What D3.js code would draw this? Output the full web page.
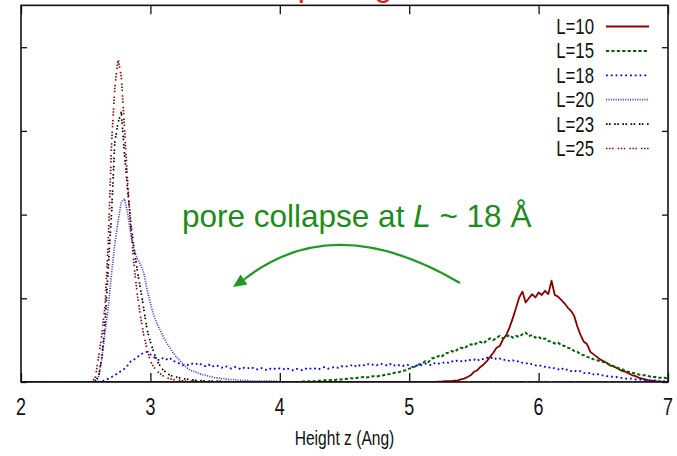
<!DOCTYPE html>
<html>
<head>
<meta charset="utf-8">
<script src="https://cdn.jsdelivr.net/npm/d3@7"></script>
<style>
  html, body { margin: 0; padding: 0; background: #fff; }
  svg { display: block; }
</style>
</head>
<body>
<script>
// Height histograms of atoms in the pore, one series per pore size L.
// Values are on a regular height grid starting at zStart with spacing zStep.
const zStart = 2.0;
const zStep = 0.025;

const seriesNames = ["L=10", "L=15", "L=18", "L=20", "L=23", "L=25"];

const densL10 = [
  0,0,0,0,0,0,0,0,0,0, 0,0,0,0,0,0,0,0,0,0,
  0,0,0,0,0,0,0,0,0,0, 0,0,0,0,0,0,0,0,0,0,
  0,0,0,0,0,0,0,0,0,0, 0,0,0,0,0,0,0,0,0,0,
  0,0,0,0,0,0,0,0,0,0, 0,0,0,0,0,0,0,0,0,0,
  0,0,0,0,0,0,0,0,0,0, 0,0,0,0,0,0,0,0,0,0,
  0,0,0,0,0,0,0,0,0,0, 0,0,0,0,0,0,0,0,0,0,
  0,0,0,0,0,0,0,0,0,0.005, 0.005,0.01,0.01,0.01,0.015,0.02,0.03,0.04,0.06,0.08,
  0.12,0.14,0.18,0.21,0.25,0.30,0.35,0.41,0.43,0.51, 0.56,0.65,0.76,0.88,1.01,1.08,0.95,1.00,1.05,1.01,
  1.07,1.04,1.09,1.05,1.21,1.04,1.02,0.98,0.94,0.89, 0.85,0.79,0.66,0.56,0.48,0.45,0.36,0.33,0.30,0.27,
  0.25,0.23,0.20,0.19,0.17,0.15,0.13,0.12,0.10,0.08, 0.07,0.05,0.04,0.03,0.02,0.015,0.01,0.005,0.005,0,
  0
];

const densL15 = [
  0,0,0,0,0,0,0,0,0,0, 0,0,0,0,0,0,0,0,0,0,
  0,0,0,0,0,0,0,0,0,0, 0,0,0,0,0,0,0,0,0,0,
  0,0,0,0,0,0,0,0,0,0, 0,0,0,0,0,0,0,0,0,0,
  0,0,0,0,0,0,0,0,0,0, 0,0,0,0,0,0,0,0,0,0,
  0,0,0,0,0,0,0,0.005,0.005,0.01, 0.01,0.01,0.015,0.015,0.02,0.02,0.025,0.025,0.03,0.03,
  0.035,0.04,0.045,0.04,0.05,0.055,0.06,0.055,0.065,0.07, 0.065,0.075,0.08,0.09,0.095,0.105,0.115,0.12,0.135,0.14,
  0.16,0.17,0.19,0.21,0.22,0.25,0.24,0.28,0.29,0.31, 0.30,0.34,0.35,0.37,0.36,0.39,0.41,0.40,0.43,0.45,
  0.44,0.47,0.48,0.46,0.50,0.52,0.50,0.53,0.55,0.52, 0.54,0.56,0.53,0.55,0.54,0.57,0.59,0.55,0.56,0.53,
  0.54,0.51,0.52,0.49,0.48,0.46,0.47,0.44,0.43,0.41, 0.40,0.37,0.36,0.33,0.32,0.30,0.29,0.27,0.26,0.25,
  0.24,0.22,0.21,0.19,0.18,0.16,0.15,0.13,0.12,0.11, 0.10,0.09,0.08,0.08,0.07,0.06,0.06,0.05,0.05,0.05,
  0.04
];

const densL18 = [
  0,0,0,0,0,0,0,0,0,0, 0,0,0,0,0,0,0,0,0,0,
  0,0,0,0,0.005,0.01,0.02,0.04,0.06,0.08, 0.11,0.13,0.16,0.20,0.25,0.27,0.30,0.33,0.35,0.36,
  0.33,0.30,0.27,0.26,0.29,0.27,0.29,0.25,0.24,0.22, 0.20,0.21,0.20,0.22,0.21,0.23,0.20,0.19,0.21,0.18,
  0.20,0.19,0.17,0.19,0.18,0.16,0.18,0.17,0.15,0.17, 0.16,0.18,0.16,0.15,0.17,0.16,0.14,0.16,0.15,0.17,
  0.16,0.15,0.17,0.15,0.14,0.16,0.15,0.14,0.16,0.15, 0.17,0.16,0.15,0.17,0.18,0.16,0.17,0.18,0.17,0.19,
  0.18,0.19,0.20,0.18,0.21,0.19,0.20,0.22,0.20,0.21, 0.20,0.22,0.21,0.20,0.22,0.19,0.21,0.20,0.19,0.21,
  0.20,0.18,0.19,0.21,0.20,0.22,0.21,0.20,0.23,0.22, 0.22,0.24,0.23,0.25,0.24,0.26,0.25,0.24,0.27,0.26,
  0.27,0.25,0.28,0.27,0.29,0.28,0.30,0.27,0.28,0.26, 0.27,0.25,0.26,0.24,0.25,0.23,0.22,0.23,0.21,0.20,
  0.19,0.20,0.18,0.17,0.18,0.16,0.15,0.17,0.14,0.15, 0.13,0.14,0.12,0.13,0.11,0.10,0.11,0.09,0.10,0.08,
  0.08,0.07,0.07,0.06,0.06,0.05,0.05,0.04,0.04,0.04, 0.03,0.03,0.03,0.02,0.02,0.02,0.02,0.01,0.01,0.01,
  0.01
];

const densL20 = [
  0,0,0,0,0,0,0,0,0,0, 0,0,0,0,0,0,0,0,0,0,
  0,0,0,0.02,0.07,0.28,0.60,0.90,1.30,1.65, 1.92,2.15,2.19,2.01,1.76,1.57,1.47,1.40,1.30,1.10,
  0.94,0.80,0.70,0.62,0.54,0.47,0.41,0.35,0.30,0.26, 0.22,0.18,0.15,0.13,0.12,0.10,0.09,0.08,0.07,0.06,
  0.05,0.05,0.04,0.04,0.03,0.03,0.03,0.02,0.02,0.02, 0.02,0.01,0.01,0.01,0.01,0.01,0.01,0.01,0.01,0.01,
  0,0,0,0,0,0,0,0,0,0, 0,0,0,0,0,0,0,0,0,0,
  0,0,0,0,0,0,0,0,0,0, 0,0,0,0,0,0,0,0,0,0,
  0,0,0,0,0,0,0,0,0,0, 0,0,0,0,0,0,0,0,0,0,
  0,0,0,0,0,0,0,0,0,0, 0,0,0,0,0,0,0,0,0,0,
  0,0,0,0,0,0,0,0,0,0, 0,0,0,0,0,0,0,0,0,0,
  0,0,0,0,0,0,0,0,0,0, 0,0,0,0,0,0,0,0,0,0,
  0
];

const densL23 = [
  0,0,0,0,0,0,0,0,0,0, 0,0,0,0,0,0,0,0,0,0,
  0,0,0,0.01,0.06,0.30,0.72,1.38,2.02,2.87, 3.10,3.22,2.72,2.28,1.88,1.58,1.32,1.10,0.86,0.62,
  0.48,0.36,0.26,0.19,0.14,0.11,0.08,0.07,0.06,0.05, 0.04,0.035,0.03,0.025,0.02,0.02,0.015,0.015,0.01,0.01,
  0.01,0.01,0.01,0.005,0.005,0.005,0,0,0,0, 0,0,0,0,0,0,0,0,0,0,
  0,0,0,0,0,0,0,0,0,0, 0,0,0,0,0,0,0,0,0,0,
  0,0,0,0,0,0,0,0,0,0, 0,0,0,0,0,0,0,0,0,0,
  0,0,0,0,0,0,0,0,0,0, 0,0,0,0,0,0,0,0,0,0,
  0,0,0,0,0,0,0,0,0,0, 0,0,0,0,0,0,0,0,0,0,
  0,0,0,0,0,0,0,0,0,0, 0,0,0,0,0,0,0,0,0,0,
  0,0,0,0,0,0,0,0,0,0, 0,0,0,0,0,0,0,0,0,0,
  0
];

const densL25 = [
  0,0,0,0,0,0,0,0,0,0, 0,0,0,0,0,0,0,0,0,0,
  0,0,0,0.06,0.30,0.57,0.92,1.70,2.85,3.52, 3.86,3.65,3.03,2.36,1.81,1.37,1.03,0.77,0.55,0.39,
  0.25,0.18,0.13,0.10,0.07,0.05,0.04,0.03,0.02,0.02, 0.015,0.01,0.01,0.01,0.005,0.005,0.005,0,0,0,
  0,0,0,0,0,0,0,0,0,0, 0,0,0,0,0,0,0,0,0,0,
  0,0,0,0,0,0,0,0,0,0, 0,0,0,0,0,0,0,0,0,0,
  0,0,0,0,0,0,0,0,0,0, 0,0,0,0,0,0,0,0,0,0,
  0,0,0,0,0,0,0,0,0,0, 0,0,0,0,0,0,0,0,0,0,
  0,0,0,0,0,0,0,0,0,0, 0,0,0,0,0,0,0,0,0,0,
  0,0,0,0,0,0,0,0,0,0, 0,0,0,0,0,0,0,0,0,0,
  0,0,0,0,0,0,0,0,0,0, 0,0,0,0,0,0,0,0,0,0,
  0
];

const seriesValues = [densL10, densL15, densL18, densL20, densL23, densL25];

const xTickValues = [2, 3, 4, 5, 6, 7];
const xTickLabels = ["2", "3", "4", "5", "6", "7"];
const yTickValues = [0, 1, 2, 3, 4];
const xAxisTitle = "Height z (Ang)";
const titleText = "Pore Spacing";
const noteText = ["pore collapse at ", "L", " ~ 18 Å"];

// ---- drawing ----
const W = 677, H = 456;
const FONT = "'Liberation Sans', Arial, Helvetica, sans-serif";
const SQUEEZE = 0.78;   // narrow lettering of the plot text

const lineStyles = [
  { color: "#8b0000", dash: null,                       width: 1.8 },
  { color: "#006400", dash: "3.2,2.2",                  width: 2.0 },
  { color: "#0000ff", dash: "1.8,3",                    width: 1.8 },
  { color: "#4040dc", dash: "1.1,1.3",                  width: 1.7 },
  { color: "#000000", dash: "1.6,1.4,1.6,3.6",          width: 1.7 },
  { color: "#990000", dash: "1.5,1.5,1.5,1.5,1.5,4.2",  width: 1.7 }
];

const svg = d3.select("body").append("svg")
  .attr("width", W).attr("height", H)
  .style("font-family", FONT);

const x = d3.scaleLinear().domain([2, 7]).range([21, 668]);
const y = d3.scaleLinear().domain([0, 4.5]).range([382, 5.35]);

// title (sits mostly above the canvas)
svg.append("text")
  .attr("x", 200).attr("y", -4)
  .attr("font-size", 32)
  .attr("fill", "#e8141c")
  .text(titleText);

svg.append("defs").append("clipPath").attr("id", "plotClip")
  .append("rect")
  .attr("x", x(2)).attr("y", y(4.5))
  .attr("width", x(7) - x(2)).attr("height", y(0) - y(4.5));

// curves
const line = d3.line()
  .x((d, i) => x(zStart + i * zStep))
  .y(d => y(d));

const curves = svg.append("g").attr("clip-path", "url(#plotClip)");
seriesValues.forEach((vals, k) => {
  const st = lineStyles[k];
  curves.append("path")
    .datum(vals)
    .attr("d", line)
    .attr("fill", "none")
    .attr("stroke", st.color)
    .attr("stroke-width", st.width)
    .attr("stroke-linejoin", "round")
    .attr("stroke-dasharray", st.dash);
});

// inward ticks on all four sides
const axisStyle = g => {
  g.select(".domain").remove();
  g.selectAll(".tick line").attr("stroke", "#111").attr("stroke-width", 1.3);
  g.selectAll(".tick text").remove();
};
svg.append("g").attr("transform", `translate(0,${y(0)})`)
  .call(d3.axisBottom(x).tickValues(xTickValues).tickSizeInner(-9).tickSizeOuter(0))
  .call(axisStyle);
svg.append("g").attr("transform", `translate(0,${y(4.5)})`)
  .call(d3.axisTop(x).tickValues(xTickValues).tickSizeInner(-9).tickSizeOuter(0))
  .call(axisStyle);
svg.append("g").attr("transform", `translate(${x(2)},0)`)
  .call(d3.axisLeft(y).tickValues(yTickValues).tickSizeInner(-6).tickSizeOuter(0))
  .call(axisStyle);
svg.append("g").attr("transform", `translate(${x(7)},0)`)
  .call(d3.axisRight(y).tickValues(yTickValues).tickSizeInner(-6).tickSizeOuter(0))
  .call(axisStyle);

// frame
svg.append("rect")
  .attr("x", x(2)).attr("y", y(4.5))
  .attr("width", x(7) - x(2)).attr("height", y(0) - y(4.5))
  .attr("fill", "none").attr("stroke", "#111").attr("stroke-width", 1.6);

// tick labels
svg.append("g").selectAll("text")
  .data(xTickValues)
  .join("text")
  .attr("transform", d => `translate(${x(d)},415) scale(${SQUEEZE},1)`)
  .attr("text-anchor", "middle")
  .attr("font-size", 23)
  .attr("fill", "#111")
  .text((d, i) => xTickLabels[i]);

// x-axis title
svg.append("text")
  .attr("transform", `translate(${(x(2) + x(7)) / 2},445) scale(${SQUEEZE},1)`)
  .attr("text-anchor", "middle")
  .attr("font-size", 20)
  .attr("fill", "#111")
  .text(xAxisTitle);

// legend
const legend = svg.append("g");
seriesNames.forEach((name, k) => {
  const cy = 26.5 + k * 24.4;
  const st = lineStyles[k];
  legend.append("text")
    .attr("transform", `translate(594,${cy + 7.5}) scale(${SQUEEZE},1)`)
    .attr("text-anchor", "end")
    .attr("font-size", 21.5)
    .attr("fill", "#111")
    .text(name);
  legend.append("line")
    .attr("x1", 606).attr("x2", 649)
    .attr("y1", cy).attr("y2", cy)
    .attr("stroke", st.color)
    .attr("stroke-width", st.width)
    .attr("stroke-dasharray", st.dash);
});

// annotation: text and curved arrow
const GREEN = "#1c8c1c";
const note = svg.append("text")
  .attr("x", 182).attr("y", 227)
  .attr("font-size", 31.5)
  .attr("fill", GREEN);
note.append("tspan").text(noteText[0]);
note.append("tspan").attr("font-style", "italic").text(noteText[1]);
note.append("tspan").text(noteText[2]);

svg.append("path")
  .attr("d", "M460,283 Q334,208.75 244,279.5")
  .attr("fill", "none")
  .attr("stroke", "#1f991f")
  .attr("stroke-width", 2.2);
svg.append("path")
  .attr("d", "M233,287 L247.4,284.5 L240.6,274.5 Z")
  .attr("fill", "#1f991f");
</script>
</body>
</html>
